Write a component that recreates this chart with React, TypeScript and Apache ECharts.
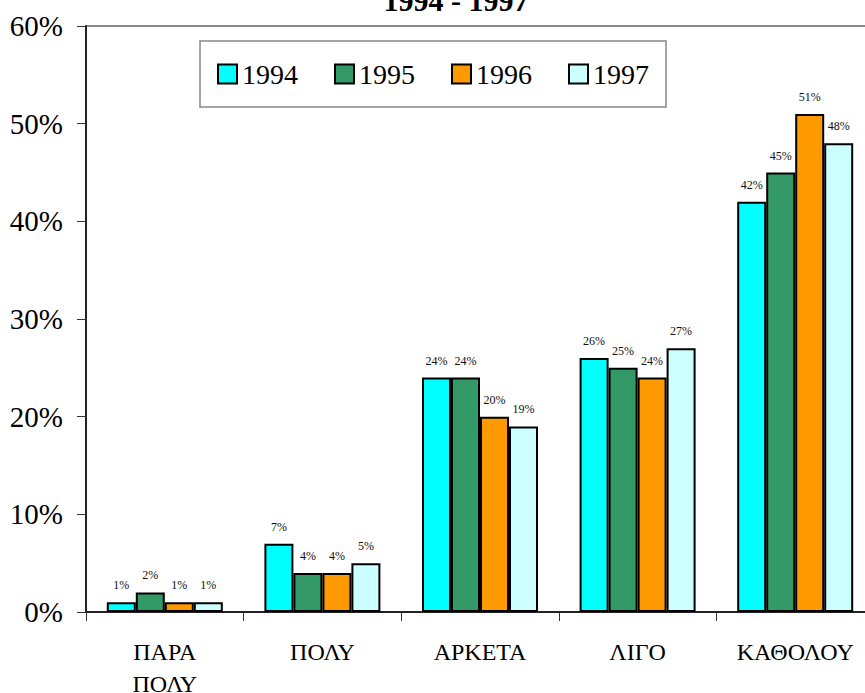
import React, { useEffect, useRef } from "react";
import * as echarts from "echarts";

const categories = ["ΠΑΡΑ\nΠΟΛΥ", "ΠΟΛΥ", "ΑΡΚΕΤΑ", "ΛΙΓΟ", "ΚΑΘΟΛΟΥ"];
const years = ["1994", "1995", "1996", "1997"];
const v1994 = [1, 7, 24, 26, 42];
const v1995 = [2, 4, 24, 25, 45];
const v1996 = [1, 4, 20, 24, 51];
const v1997 = [1, 5, 19, 27, 48];
const yTicks = { min: 0, max: 60, interval: 10 };
const colors = ["#00FFFF", "#339966", "#FF9900", "#CCFFFF"];
const titleText = "1994 - 1997";

const FONT = "Liberation Serif";

export default function App() {
  const ref = useRef<HTMLDivElement>(null);
  useEffect(() => {
    if (!ref.current) return;
    const chart = echarts.init(ref.current, null, { renderer: "svg" });
    const seriesData = [v1994, v1995, v1996, v1997];
    chart.setOption({
      animation: false,
      backgroundColor: "#ffffff",
      textStyle: { fontFamily: FONT },
      graphic: [
        {
          type: "text",
          x: 456,
          y: 0,
          style: {
            text: titleText,
            font: `bold 30px ${FONT}`,
            fill: "#000",
            align: "center",
            verticalAlign: "middle",
          },
        },
      ],
      legend: {
        left: 200,
        top: 41,
        padding: [19, 17],
        itemGap: 36,
        itemWidth: 19,
        itemHeight: 19,
        icon: "rect",
        backgroundColor: "#fff",
        borderColor: "#888",
        borderWidth: 1.5,
        borderRadius: 0,
        data: years,
        textStyle: { fontFamily: FONT, fontSize: 28, color: "#000" },
        itemStyle: { borderColor: "#000", borderWidth: 2 },
      },
      grid: {
        left: 86,
        top: 26,
        width: 788,
        height: 586,
        show: true,
        borderColor: "#888",
        borderWidth: 2,
        containLabel: false,
        outerBoundsMode: "none",
      },
      xAxis: {
        type: "category",
        data: categories,
        axisLine: { lineStyle: { color: "#222", width: 2 } },
        axisTick: { show: true, length: 9, lineStyle: { color: "#333", width: 1 } },
        axisLabel: {
          fontFamily: FONT,
          fontSize: 24,
          lineHeight: 32,
          color: "#000",
          margin: 24,
          interval: 0,
        },
      },
      yAxis: {
        type: "value",
        min: yTicks.min,
        max: yTicks.max,
        interval: yTicks.interval,
        axisLine: { show: true, lineStyle: { color: "#222", width: 2 } },
        axisTick: { show: true, length: 9, lineStyle: { color: "#333", width: 1 } },
        splitLine: { show: false },
        axisLabel: {
          formatter: "{value}%",
          fontFamily: FONT,
          fontSize: 29,
          color: "#000",
          margin: 23,
        },
      },
      series: years.map((y, i) => ({
        name: y,
        type: "bar",
        data: seriesData[i],
        barWidth: 29,
        barGap: "0%",
        itemStyle: { color: colors[i], borderColor: "#000", borderWidth: 2 },
        label: {
          show: true,
          position: "top",
          distance: 11,
          formatter: "{c}%",
          fontFamily: FONT,
          fontSize: 12,
          color: "#111",
        },
      })),
    });
    return () => chart.dispose();
  }, []);
  return (
    <div
      ref={ref}
      style={{ position: "absolute", left: 0, top: 0, width: 865, height: 693 }}
    />
  );
}
